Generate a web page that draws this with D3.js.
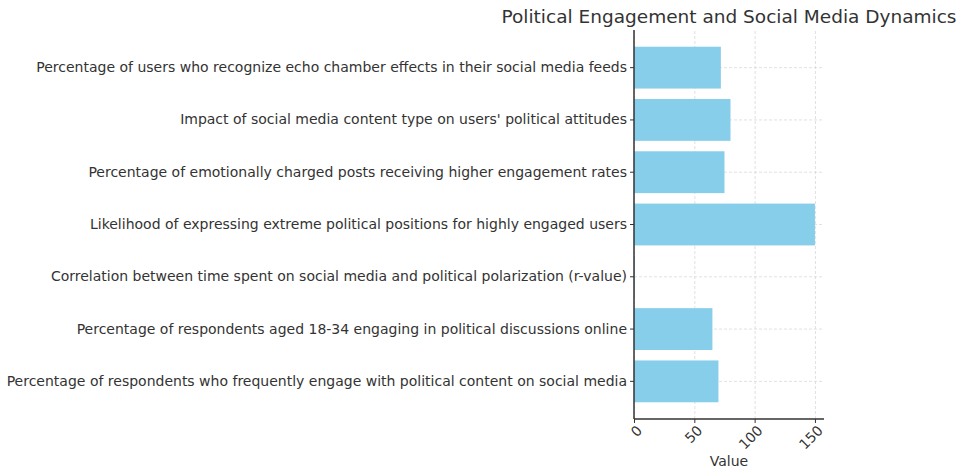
<!DOCTYPE html>
<html>
<head>
<meta charset="utf-8">
<script src="https://cdn.jsdelivr.net/npm/d3@7"></script>
<style>
	body { margin: 0; background: #fff; }
	text { font-family: "DejaVu Sans", sans-serif; fill: #333; }
	.grid line { stroke: #d9d9d9; stroke-dasharray: 3,2; stroke-width: 0.8; }
	.grid path { display: none; }
</style>
</head>
<body>
<svg id="chart" width="960" height="469"></svg>
<script>
	'use strict';

	// top to bottom as drawn
	var categories = [
		"Percentage of users who recognize echo chamber effects in their social media feeds",
		"Impact of social media content type on users' political attitudes",
		"Percentage of emotionally charged posts receiving higher engagement rates",
		"Likelihood of expressing extreme political positions for highly engaged users",
		"Correlation between time spent on social media and political polarization (r-value)",
		"Percentage of respondents aged 18-34 engaging in political discussions online",
		"Percentage of respondents who frequently engage with political content on social media"
	];
	var values = [72, 80, 75, 150, 0.45, 65, 70];
	var xTicks = [0, 50, 100, 150];

	var svg = d3.select('#chart');
	var margin = { left: 634, right: 136, top: 30, bottom: 50 };
	var width = 960, height = 469;

	var x = d3.scaleLinear().domain([0, 157.5]).range([margin.left, width - margin.right]);
	var y = d3.scaleBand().domain(categories)
		.range([margin.top, height - margin.bottom])
		.paddingInner(0.2).paddingOuter(0.32);

	// grid
	svg.append('g').attr('class', 'grid')
		.attr('transform', 'translate(0,' + (height - margin.bottom) + ')')
		.call(d3.axisBottom(x).tickValues(xTicks).tickSize(-(height - margin.bottom - margin.top)).tickFormat(''));
	svg.append('g').attr('class', 'grid')
		.attr('transform', 'translate(' + margin.left + ',0)')
		.call(d3.axisLeft(y).tickSize(-(width - margin.right - margin.left)).tickFormat(''));

	// bars
	svg.append('g').selectAll('rect').data(values).enter().append('rect')
		.attr('x', x(0))
		.attr('y', function(d, i) { return y(categories[i]); })
		.attr('width', function(d) { return x(d) - x(0); })
		.attr('height', y.bandwidth())
		.attr('fill', '#87ceeb');

	// y axis
	var yAxis = svg.append('g')
		.attr('transform', 'translate(' + margin.left + ',0)')
		.call(d3.axisLeft(y).tickSize(4).tickPadding(3));
	yAxis.select('.domain').attr('stroke', '#333').attr('stroke-width', 1.5).attr('d', 'M0,' + margin.top + 'V' + (height - margin.bottom));
	yAxis.selectAll('.tick line').attr('stroke', '#333');
	yAxis.selectAll('text').style('font-size', '14px').attr('fill', '#333');

	// x axis
	var xAxis = svg.append('g')
		.attr('transform', 'translate(0,' + (height - margin.bottom) + ')')
		.call(d3.axisBottom(x).tickValues(xTicks).tickSize(4));
	xAxis.select('.domain').attr('stroke', '#333').attr('stroke-width', 1.5).attr('d', 'M' + margin.left + ',0H' + (width - margin.right));
	xAxis.selectAll('.tick line').attr('stroke', '#333');
	xAxis.selectAll('text')
		.style('font-size', '14px').attr('fill', '#333')
		.attr('text-anchor', 'end')
		.attr('y', 0)
		.attr('dy', '0.35em')
		.attr('transform', 'translate(5,9) rotate(-45)');

	svg.append('text')
		.attr('x', (margin.left + width - margin.right) / 2)
		.attr('y', 466)
		.attr('text-anchor', 'middle')
		.style('font-size', '14px')
		.text('Value');

	svg.append('text')
		.attr('x', (margin.left + width - margin.right) / 2)
		.attr('y', 23)
		.attr('text-anchor', 'middle')
		.style('font-size', '18.5px')
		.text('Political Engagement and Social Media Dynamics');
</script>
</body>
</html>
